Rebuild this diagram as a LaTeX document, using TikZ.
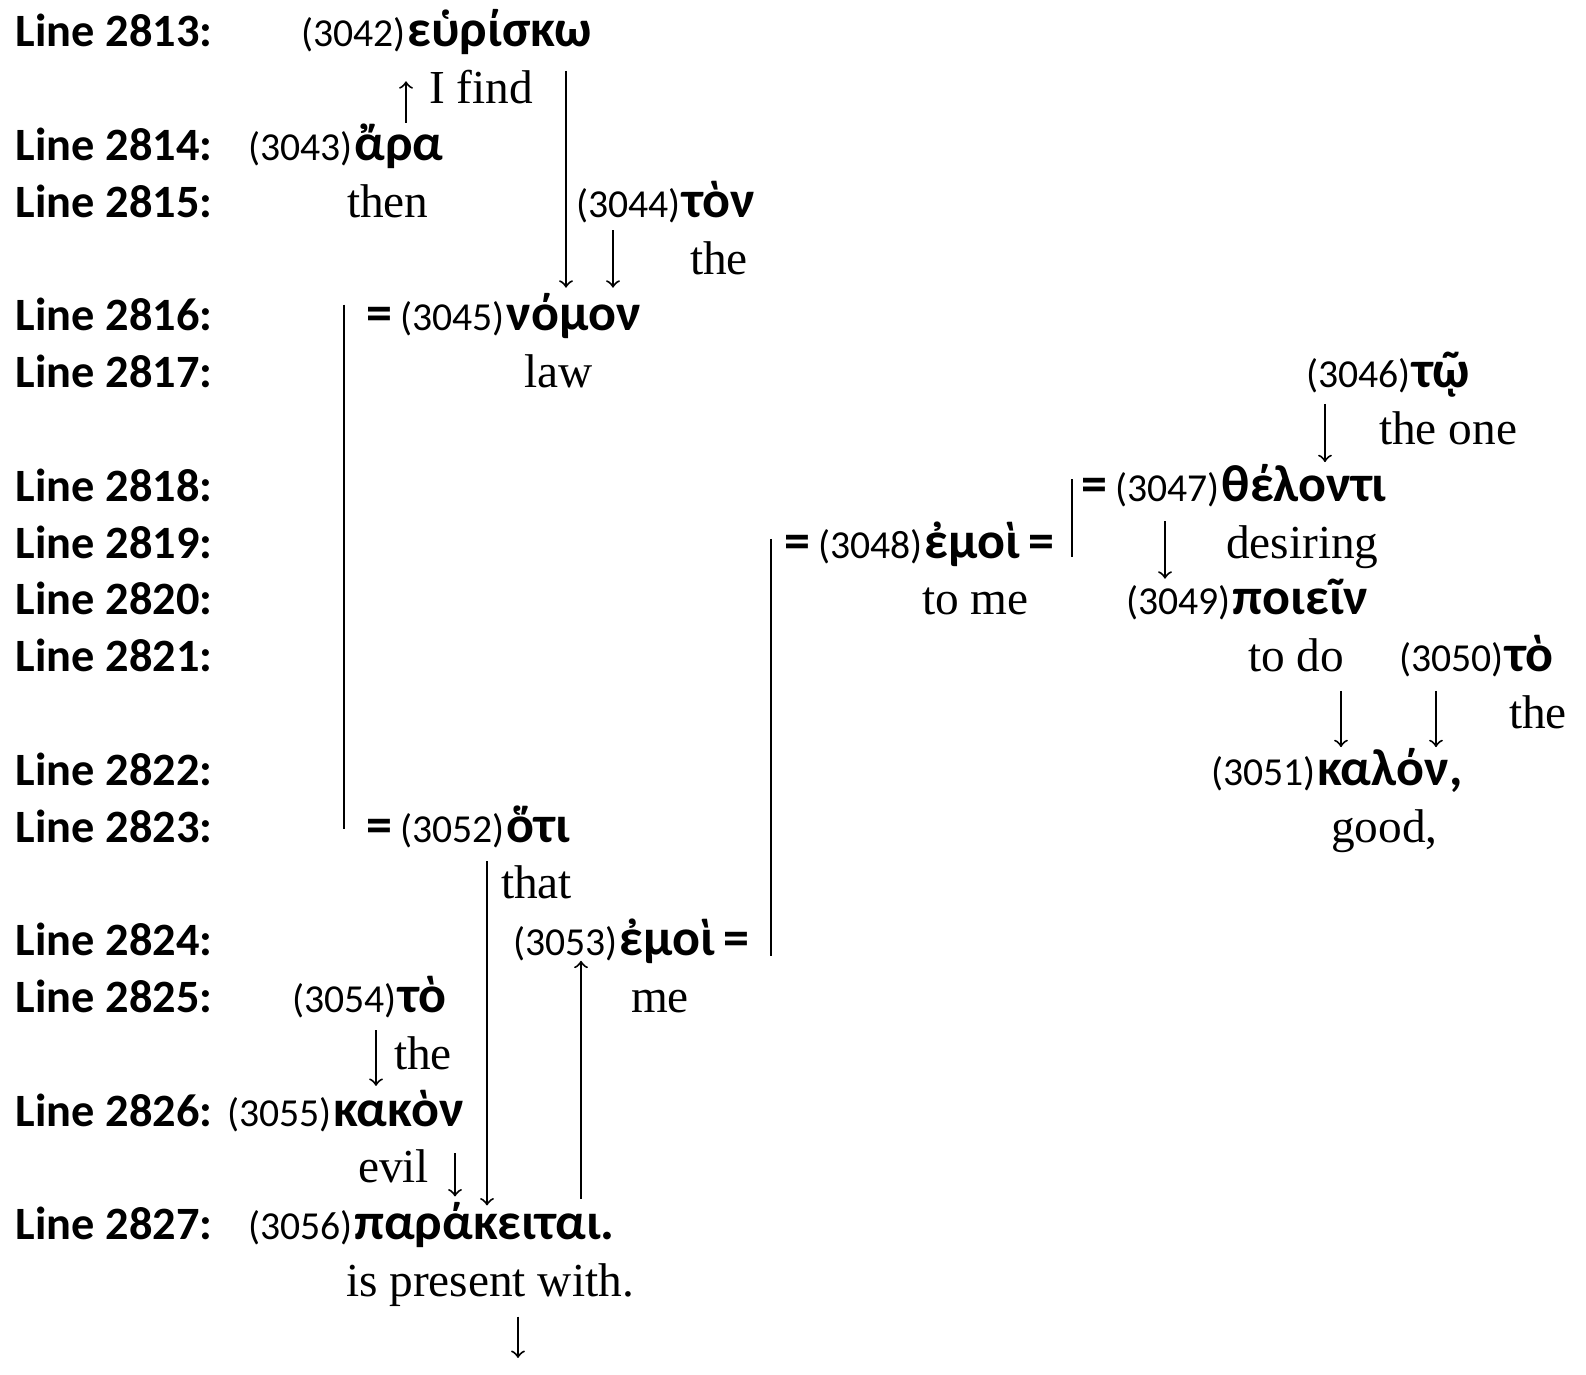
\documentclass[tikz,border=0pt]{standalone}
\usepackage{fontspec}
\setmainfont{Liberation Serif}
\newfontfamily\calibri{Carlito}
\newcommand{\lnfont}{\calibri\bfseries\fontsize{13.9pt}{16pt}\selectfont}
\newcommand{\numfont}{\calibri\fontsize{11.9pt}{13pt}\selectfont}
\newcommand{\grfont}{\calibri\bfseries\fontsize{15.6pt}{17pt}\selectfont}
\newcommand{\glfont}{\fontsize{14.2pt}{16pt}\selectfont}
\newcommand{\gw}[2]{{\numfont(#1)}\kern0.6pt{\grfont #2}}
\newcommand{\eqs}{{\grfont =}}

\begin{document}
\begin{tikzpicture}[x=0.3pt,y=-17.04pt,line width=0.6pt,
	every node/.style={inner sep=0pt,anchor=base west,text height=10pt,text depth=3pt},
	lbl/.style={font=\lnfont},
	gl/.style={font=\glfont},
	arr/.style={->,shorten <=2.5pt,shorten >=2pt},
	bar/.style={line width=0.6pt}]
	\useasboundingbox (0,-0.8275) rectangle (1586,23.38);
	\foreach \n/\r in {2813/0,2814/2,2815/3,2816/5,2817/6,2818/8,2819/9,2820/10,2821/11,2822/13,2823/14,2824/16,2825/17,2826/19,2827/21}
		\node[lbl] (l\n) at (15,\r) {Line \n:};
	\node (3042) at (300,0) {\gw{3042}{εὑρίσκω}};
	\node[gl] (3042') at (428,1) {I find};
	\node (3043) at (247,2) {\gw{3043}{ἄρα}};
	\node[gl] (3043') at (346,3) {then};
	\node (3044) at (575,3) {\gw{3044}{τὸν}};
	\node[gl] (3044') at (689,4) {the};
	\node (3045) at (365,5) {\eqs{} \gw{3045}{νόμον}};
	\node[gl] (3045') at (523,6) {law};
	\node (3046) at (1305,6) {\gw{3046}{τῷ}};
	\node[gl] (3046') at (1378,7) {the one};
	\node (3047) at (1080,8) {\eqs{} \gw{3047}{θέλοντι}};
	\node (3048) at (783,9) {\eqs{} \gw{3048}{ἐμοὶ} \eqs};
	\node[gl] (3047') at (1225,9) {desiring};
	\node[gl] (3048') at (921,10) {to me};
	\node (3049) at (1125,10) {\gw{3049}{ποιεῖν}};
	\node[gl] (3049') at (1247,11) {to do};
	\node (3050) at (1398,11) {\gw{3050}{τὸ}};
	\node[gl] (3050') at (1508,12) {the};
	\node (3051) at (1210,13) {\gw{3051}{καλόν,}};
	\node[gl] (3051') at (1330,14) {good,};
	\node (3052) at (365,14) {\eqs{} \gw{3052}{ὅτι}};
	\node[gl] (3052') at (500,15) {that};
	\node (3053) at (512,16) {\gw{3053}{ἐμοὶ} \eqs};
	\node (3054) at (291,17) {\gw{3054}{τὸ}};
	\node[gl] (3053') at (630,17) {me};
	\node[gl] (3054') at (393,18) {the};
	\node (3055) at (226,19) {\gw{3055}{κακὸν}};
	\node[gl] (3055') at (357,20) {evil};
	\node (3056) at (247,21) {\gw{3056}{παράκειται.}};
	\node[gl] (3056') at (345,22) {is present with.};
	\coordinate (end) at (518,23.08);
	\draw[arr,shorten <=1pt,shorten >=7pt] (3043.north -| 406,0) -- (3042.south -| 406,0);
	\draw[arr,shorten <=3.9pt,shorten >=2.7pt] (3042.south -| 566,0) -- (3045.north -| 566,0);
	\draw[arr,shorten <=0.6pt,shorten >=2.7pt] (3044.south -| 613,0) -- (3045.north -| 613,0);
	\draw[arr,shorten <=1.5pt,shorten >=1.5pt] (3046.south -| 1325,0) -- (3047.north -| 1325,0);
	\draw[arr,shorten <=2.7pt,shorten >=0.6pt] (3047.south -| 1165,0) -- (3049.north -| 1165,0);
	\draw[arr,shorten <=2.4pt,shorten >=1.2pt] (3049'.south -| 1341,0) -- (3051.north -| 1341,0);
	\draw[arr,shorten <=2.4pt,shorten >=1.2pt] (3050.south -| 1436,0) -- (3051.north -| 1436,0);
	\draw[arr,shorten <=2.4pt,shorten >=0pt] (3052.south -| 487,0) -- (3056.north -| 487,0);
	\draw[arr,shorten <=2pt,shorten >=-1.8pt] (3056.north -| 581,0) -- (3053.south -| 581,0);
	\draw[arr,shorten <=2pt,shorten >=1.8pt] (3054.south -| 376,0) -- (3055.north -| 376,0);
	\draw[arr,shorten <=4.8pt,shorten >=2.7pt] (3055.south -| 455,0) -- (3056.north -| 455,0);
	\draw[arr,shorten <=2.7pt,shorten >=0pt] (3056'.south -| 518,0) -- (end);
	\draw[bar,shorten <=2.4pt,shorten >=7.2pt] (3045.north -| 344,0) -- (3052.south -| 344,0);
	\draw[bar,shorten <=3.6pt,shorten >=3.6pt] (3047.north -| 1072,0) -- (3048.south -| 1072,0);
	\draw[bar,shorten <=4.5pt,shorten >=3.3pt] (3048.north -| 771,0) -- (3053.south -| 771,0);
\end{tikzpicture}
\end{document}
